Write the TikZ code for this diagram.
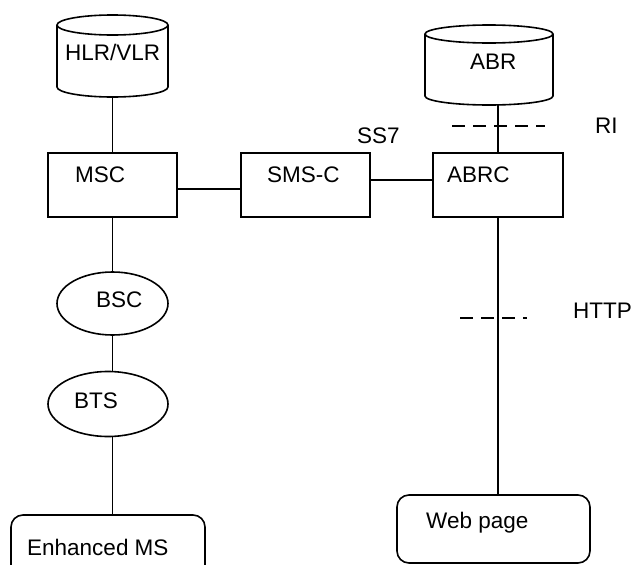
\documentclass[tikz,border=0pt]{standalone}
\usepackage{fontspec}
\setmainfont{Liberation Sans}
\usetikzlibrary{shapes.geometric}

\tikzset{
  line/.style={line width=1.6pt},
  boxnode/.style={draw, line width=1.6pt, rectangle, inner sep=0pt},
  ovalnode/.style={draw, line width=1.6pt, ellipse, inner sep=0pt},
  area/.style={inner sep=0pt, minimum width=0pt, minimum height=0pt},
  lbl/.style={anchor=base west, inner sep=0pt, font=\fontsize{22.5}{27}\selectfont},
  cut/.style={line width=1.6pt, dash pattern=on 13pt off 8pt},
}

\begin{document}
\begin{tikzpicture}[x=1pt, y=-1pt]
  \useasboundingbox (0,0) rectangle (641,565);
  \clip (0,0) rectangle (641,565);

  % HLR/VLR data store
  \draw[line] (112.5,25) ellipse [x radius=55.5pt, y radius=10pt];
  \draw[line] (57,25) -- (57,87)
     .. controls (57,92.5) and (81.8,97) .. (112.5,97)
     .. controls (143.2,97) and (168,92.5) .. (168,87) -- (168,25);
  \node[area, minimum width=111pt, minimum height=82pt] (hlr) at (112.5,56) {};
  \node[lbl] (hlrtxt) at (65,60) {HLR/VLR};

  % ABR data store
  \draw[line] (489,34) ellipse [x radius=64pt, y radius=9pt];
  \draw[line] (425,34) -- (425,96)
     .. controls (425,101) and (453.7,105) .. (489,105)
     .. controls (524.3,105) and (553,101) .. (553,96) -- (553,34);
  \node[area, minimum width=128pt, minimum height=80pt] (abr) at (489,65) {};
  \node[lbl] (abrtxt) at (470,69) {ABR};

  % switching boxes
  \node[boxnode, minimum width=129pt, minimum height=64pt] (msc) at (112.5,185) {};
  \node[lbl] (msctxt) at (75,182) {MSC};
  \node[boxnode, minimum width=129pt, minimum height=64pt] (smsc) at (305.5,185) {};
  \node[lbl] (smsctxt) at (267,182) {SMS-C};
  \node[boxnode, line width=2.4pt, minimum width=130pt, minimum height=64pt] (abrc) at (498,185) {};
  \node[lbl] (abrctxt) at (447,182) {ABRC};

  % radio side
  \node[ovalnode, minimum width=111pt, minimum height=63pt] (bsc) at (112.5,303.5) {};
  \node[lbl] (bsctxt) at (96,307) {BSC};
  \node[ovalnode, minimum width=120pt, minimum height=65pt] (bts) at (108,404) {};
  \node[lbl] (btstxt) at (74,408) {BTS};

  % terminals (the lower box runs past the edge)
  \draw[line, rounded corners=12pt] (11,620) -- (11,515) -- (205,515) -- (205,620);
  \node[area, minimum width=194pt, minimum height=105pt] (ms) at (108,567.5) {};
  \node[lbl] (mstxt) at (27,555) {Enhanced MS};
  \node[boxnode, rounded corners=12pt, minimum width=193pt, minimum height=68pt] (web) at (493.5,529) {};
  \node[lbl] (webtxt) at (426,528) {Web page};

  % connectors
  \coordinate (mscsms) at (0,189);
  \coordinate (smsabrc) at (0,180);
  \draw[line] (hlr.south) -- (msc.north);
  \draw[line] (msc.east |- mscsms) -- (smsc.west |- mscsms);
  \draw[line] (smsc.east |- smsabrc) -- (abrc.west |- smsabrc);
  \draw[line] (abrc.north |- abr.south) -- (abrc.north);
  \draw[line] (abrc.south) -- (web.north -| abrc.south);
  \draw[line] (msc.south) -- (bsc.north);
  \draw[line] (bsc.south) -- (bsc.south |- bts.north);
  \draw[line] (bts.south -| bsc.south) -- (ms.north -| bsc.south);

  % interface markers
  \coordinate (ri1) at (452,126);
  \coordinate (ri2) at (545,126);
  \draw[cut] (ri1) -- (ri2);
  \node[lbl] (ritxt) at (595,133) {RI};
  \coordinate (http1) at (460,318);
  \coordinate (http2) at (527,318);
  \draw[cut] (http1) -- (http2);
  \node[lbl] (httptxt) at (573,318) {HTTP};
  \node[lbl] (ss7txt) at (357,143) {SS7};
\end{tikzpicture}
\end{document}
